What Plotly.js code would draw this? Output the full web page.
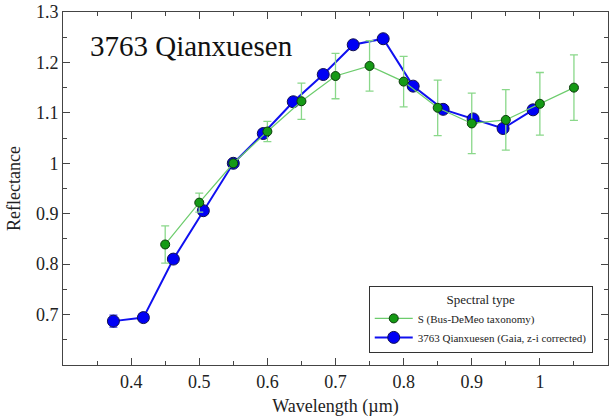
<!DOCTYPE html>
<html>
<head>
<meta charset="utf-8">
<script src="https://cdn.plot.ly/plotly-3.0.1.min.js"></script>
<style>html,body{margin:0;padding:0;background:#fff;}#chart{width:611px;height:417px;}</style>
</head>
<body>
<div id="chart"></div>
<script>
// Gaia (z-i corrected) reflectance of 3763 Qianxuesen
const gaiaWavelength = [0.374,0.418,0.462,0.506,0.550,0.594,0.638,0.682,0.726,0.770,0.814,0.858,0.902,0.946,0.990];
const gaiaReflectance = [0.687,0.694,0.810,0.906,1.000,1.059,1.122,1.176,1.235,1.247,1.153,1.107,1.088,1.069,1.106];
const gaiaError = [0.012,0.006,0.005,0.004,0.000,0.004,0.004,0.004,0.004,0.004,0.004,0.005,0.006,0.007,0.008];

// S-type (Bus-DeMeo taxonomy) mean spectrum
const sWavelength = [0.45,0.50,0.55,0.60,0.65,0.70,0.75,0.80,0.85,0.90,0.95,1.00,1.05];
const sReflectance = [0.839,0.922,1.000,1.063,1.123,1.173,1.193,1.162,1.110,1.079,1.086,1.118,1.150];
const sError = [0.037,0.019,0.000,0.020,0.036,0.045,0.050,0.050,0.055,0.060,0.060,0.062,0.065];

const xTicks = [0.4,0.5,0.6,0.7,0.8,0.9,1.0,1.1];
const xTickLabels = ['0.4','0.5','0.6','0.7','0.8','0.9','1','1.1'];
const yTicks = [0.7,0.8,0.9,1.0,1.1,1.2,1.3];
const yTickLabels = ['0.7','0.8','0.9','1','1.1','1.2','1.3'];

const FONT = 'Liberation Serif';

const traces = [
  {
    x: gaiaWavelength, y: gaiaReflectance,
    error_y: {type:'data', array: gaiaError, visible:true, color:'#2222ee', thickness:1, width:4},
    mode:'lines+markers', name:'3763 Qianxuesen (Gaia, z-i corrected)',
    line:{color:'#1010f0', width:2},
    marker:{color:'#0000f5', size:12, line:{color:'#101050', width:1}}
  },
  {
    x: sWavelength, y: sReflectance,
    error_y: {type:'data', array: sError, visible:true, color:'#8ad88a', thickness:1.3, width:4},
    mode:'lines+markers', name:'S (Bus-DeMeo taxonomy)',
    line:{color:'#6ccc6c', width:1.2},
    marker:{color:'#159a15', size:9, line:{color:'#0b3a0b', width:1}}
  }
];

const axisCommon = {
  showgrid:false, zeroline:false, showline:true, linecolor:'#444', linewidth:1,
  mirror:'ticks', ticks:'inside', ticklen:7, tickwidth:1, tickcolor:'#444',
  tickfont:{family:FONT, size:18, color:'#222'}
};

const layout = {
  width:611, height:417,
  margin:{l:63, r:3, t:12, b:52},
  paper_bgcolor:'#fff', plot_bgcolor:'#fff',
  font:{family:FONT, color:'#222'},
  showlegend:true,
  xaxis: Object.assign({}, axisCommon, {
    range:[0.3,1.1], tickvals:xTicks, ticktext:xTickLabels,
    minor:{dtick:0.05, tick0:0.3, ticks:'inside', ticklen:4, tickcolor:'#444', showgrid:false},
    title:{text:'Wavelength (µm)', font:{family:FONT, size:18, color:'#222'}, standoff:10}
  }),
  yaxis: Object.assign({}, axisCommon, {
    range:[0.6,1.3], tickvals:yTicks, ticktext:yTickLabels,
    minor:{dtick:0.05, tick0:0.6, ticks:'inside', ticklen:4, tickcolor:'#444', showgrid:false},
    title:{text:'Reflectance', font:{family:FONT, size:18, color:'#222'}, standoff:10}
  }),
  legend:{
    x:0.972, xanchor:'right', y:0.034, yanchor:'bottom',
    bgcolor:'#fff', bordercolor:'#333', borderwidth:1,
    font:{family:FONT, size:11, color:'#222'},
    traceorder:'reversed', tracegroupgap:0, itemwidth:38,
    title:{text:'Spectral type', side:'top center', font:{family:FONT, size:13, color:'#222'}}
  },
  annotations:[{
    text:'3763 Qianxuesen', xref:'paper', yref:'paper', x:0.046, y:0.905,
    xanchor:'left', yanchor:'middle', showarrow:false,
    font:{family:FONT, size:29, color:'#111'}
  }]
};

Plotly.newPlot('chart', traces, layout, {displayModeBar:false, staticPlot:true});
</script>
</body>
</html>
